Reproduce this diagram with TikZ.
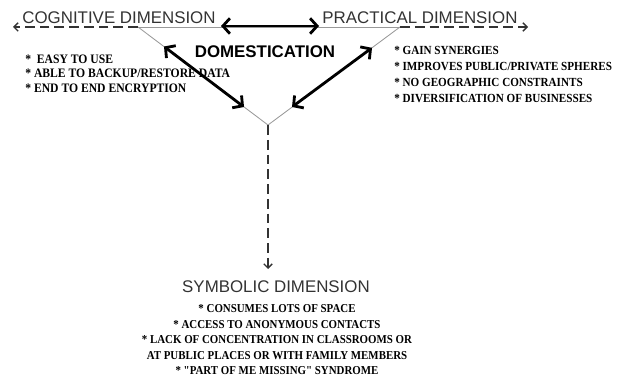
\documentclass[tikz,border=0pt]{standalone}
\usepackage{fontspec}
\setmainfont{Liberation Serif}
\setsansfont{Liberation Sans}
\newfontfamily\listfont[FakeStretch=0.9]{Liberation Serif}
\usetikzlibrary{arrows.meta}

\begin{document}
\begin{tikzpicture}[x=0.025cm,y=-0.025cm,
    dimension/.style ={font=\sffamily\fontsize{12}{14}\selectfont, text=black!80, inner sep=0pt},
    itemlist/.style ={text=black, inner sep=0pt},
    thinline/.style ={draw=black!40, line width=0.6pt},
    dashline/.style ={draw=black!80, line width=1pt, dash pattern=on 7pt off 3.5pt,
        -{Straight Barb[length=3pt,width=6pt]}},
    bigarrow/.style ={line width=2pt,
        {Straight Barb[length=5pt,width=11pt]}-{Straight Barb[length=5pt,width=11pt]}}]
   \useasboundingbox (0,0) rectangle (620,381);

   % triangle corners and free ends
   \coordinate (L)  at (138,27);
   \coordinate (R)  at (400,27);
   \coordinate (V)  at (268,125);
   \coordinate (LE) at (13,27);
   \coordinate (RE) at (528,27);
   \coordinate (VE) at (268,269);

   % ends of the thick arrows
   \coordinate (T1) at (221,26);
   \coordinate (T2) at (319,26);
   \coordinate (L1) at (164,46.5);
   \coordinate (L2) at (244,107);
   \coordinate (R1) at (372,47.8);
   \coordinate (R2) at (292,107);

   \node[dimension,anchor=base] (cog) at (119,24) {COGNITIVE DIMENSION};
   \node[dimension,anchor=base] (prac) at (420,24) {PRACTICAL DIMENSION};
   \node[dimension,anchor=base,font=\sffamily\bfseries\fontsize{12}{14}\selectfont,text=black]
        (dom) at (265,58) {DOMESTICATION};
   \node[dimension,anchor=base] (sym) at (276,292) {SYMBOLIC DIMENSION};

   \node[itemlist,align=left,anchor=north west,
         font=\listfont\bfseries\fontsize{9.2}{10.6}\selectfont] (cogitems) at (25,54.2)
        {*\ \ EASY TO USE\\ * ABLE TO BACKUP/RESTORE DATA\\ * END TO END ENCRYPTION};
   \node[itemlist,align=left,anchor=north west,
         font=\listfont\bfseries\fontsize{8.8}{11.3}\selectfont] (pracitems) at (394,46.5)
        {* GAIN SYNERGIES\\ * IMPROVES PUBLIC/PRIVATE SPHERES\\
         * NO GEOGRAPHIC CONSTRAINTS\\ * DIVERSIFICATION OF BUSINESSES};
   \node[itemlist,align=center,anchor=north,
         font=\listfont\bfseries\fontsize{8.6}{11}\selectfont] (symitems) at (277,304.7)
        {* CONSUMES LOTS OF SPACE\\ * ACCESS TO ANONYMOUS CONTACTS\\
         * LACK OF CONCENTRATION IN CLASSROOMS OR\\
         AT PUBLIC PLACES OR WITH FAMILY MEMBERS\\
         * "PART OF ME MISSING" SYNDROME};

   \draw[thinline] (L) to (R);
   \draw[thinline] (L) to (V);
   \draw[thinline] (R) to (V);
   \draw[dashline] (L) to (LE);
   \draw[dashline] (R) to (RE);
   \draw[dashline] (V) to (VE);

   \draw[bigarrow] (T1) to (T2);
   \draw[bigarrow] (L1) to (L2);
   \draw[bigarrow] (R1) to (R2);
 \end{tikzpicture}
\end{document}
